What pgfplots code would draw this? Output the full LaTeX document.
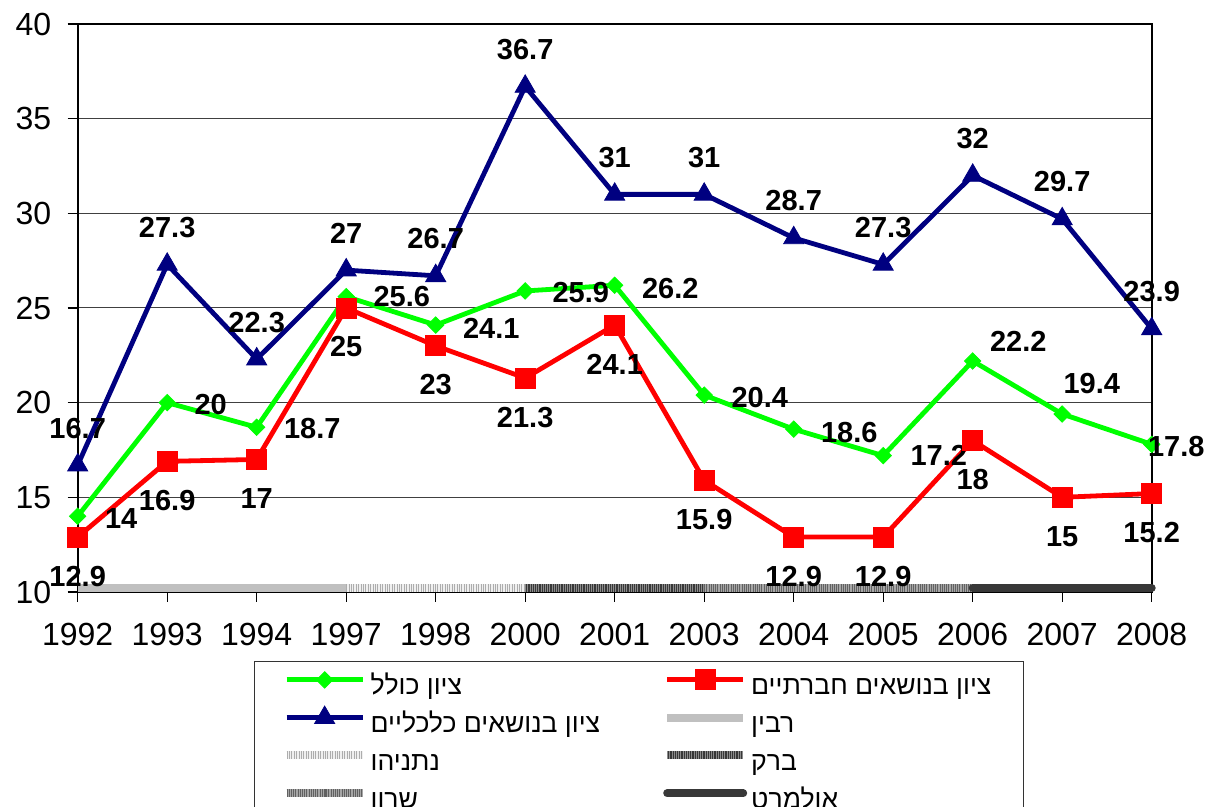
\documentclass[border=0pt]{standalone}
\usepackage{fontspec}
\setmainfont{Liberation Sans}
\newfontfamily\hebfont[Script=Hebrew]{Liberation Sans}
\TeXXeTstate=1
\usepackage{pgfplots}
\usepackage{pgfplotstable}
\pgfplotsset{compat=1.18}
\definecolor{cgreen}{HTML}{00FF00}
\definecolor{cred}{HTML}{FF0000}
\definecolor{cblue}{HTML}{000080}
\definecolor{rabin}{HTML}{C0C0C0}
\definecolor{olmert}{HTML}{383838}

% overall index (green): x, value, label shift
\pgfplotstableread{
x y dx dy
0 14 13.5 -1
1 20 13.5 -1
2 18.7 13.5 -0.5
3 25.6 13.5 0
4 24.1 13.5 -1.5
5 25.9 13.5 -1
6 26.2 13.5 -1.5
7 20.4 13.5 -1
8 18.6 13.5 -1.5
9 17.2 13.5 0
10 22.2 8.5 10
11 19.4 0.5 15.5
12 17.8 -2 -1
}\greendata

% social issues (red)
\pgfplotstableread{
x y
0 12.9
1 16.9
2 17
3 25
4 23
5 21.3
6 24.1
7 15.9
8 12.9
9 12.9
10 18
11 15
12 15.2
}\reddata

% economic issues (blue)
\pgfplotstableread{
x y
0 16.7
1 27.3
2 22.3
3 27
4 26.7
5 36.7
6 31
7 31
8 28.7
9 27.3
10 32
11 29.7
12 23.9
}\bluedata

\begin{document}
\begin{tikzpicture}
\path[use as bounding box] (0,0) rectangle (608pt,403.5pt);
\begin{axis}[
  at={(38.85pt,107.5pt)}, anchor=south west,
  scale only axis, width=537pt, height=284pt,
  xmin=0, xmax=12, ymin=10, ymax=40,
  xtick={0,...,12},
  xticklabels={1992,1993,1994,1997,1998,2000,2001,2003,2004,2005,2006,2007,2008},
  ytick={10,15,...,40},
  tick pos=left, tick align=outside, major tick length=5pt,
  tick style={black, line width=0.6pt},
  ymajorgrids, major grid style={black!75, line width=0.5pt},
  axis line style={black, line width=0.9pt},
  /pgf/number format/assume math mode=true,
  tick label style={font=\fontsize{16}{18}\selectfont},
  xticklabel style={yshift=-7pt},
  yticklabel style={xshift=-4.7pt},
  clip=false,
  legend columns=2,
  legend cell align=left,
  legend image code/.code={%
    \draw[overlay,mark repeat=2,mark phase=2,#1] plot coordinates {(0pt,4pt) (19pt,4pt) (38pt,4pt)};
    \pgfpathrectangle{\pgfpoint{0pt}{-3pt}}{\pgfpoint{38pt}{13pt}}\pgfusepath{discard}},
  legend style={at={(axis description cs:0.1642,-0.122)}, anchor=north west,
    draw=black!80, line width=0.6pt, fill=white,
    inner xsep=16pt, inner ysep=3pt, row sep=2.4pt,
    font=\fontsize{13.3}{15}\selectfont\hebfont,
    nodes={inner sep=0pt, text height=10pt, text depth=3pt},
    /tikz/every odd column/.append style={column sep=4pt},
    /tikz/every even column/.append style={column sep=33.5pt}},
  every node near coord/.append style={font=\fontsize{14.5}{16}\selectfont\bfseries, black, inner sep=0pt},
]
% overall
\addplot[cgreen, line width=2.4pt, mark=square*, mark size=2.9pt,
  mark options={rotate=45, line width=0.4pt, fill=cgreen, draw=cgreen},
  nodes near coords, point meta=explicit,
  visualization depends on={\thisrow{dx} \as \dx},
  visualization depends on={\thisrow{dy} \as \dy},
  every node near coord/.append style={anchor=west, xshift=\dx pt, yshift=\dy pt}]
  table[x=x, y=y, meta=y] {\greendata};
\addlegendentry{\beginR ציון כולל\endR}
% social
\addplot[cred, line width=2.4pt, mark=square*, mark size=5pt,
  mark options={line width=0.4pt, fill=cred, draw=cred},
  nodes near coords, point meta=explicit,
  every node near coord/.append style={anchor=center, yshift=-19.5pt}]
  table[x=x, y=y, meta=y] {\reddata};
\addlegendentry{\beginR ציון בנושאים חברתיים\endR}
% economic
\addplot[cblue, line width=2.4pt, mark=triangle*, mark size=5.8pt,
  mark options={line width=0.4pt, fill=cblue, draw=cblue},
  nodes near coords, point meta=explicit,
  every node near coord/.append style={anchor=center, yshift=18.5pt}]
  table[x=x, y=y, meta=y] {\bluedata};
\addlegendentry{\beginR ציון בנושאים כלכליים\endR}
% prime ministers
\addplot[rabin, line width=4pt, no marks] coordinates {(0,10.21) (3,10.21)};
\addlegendentry{\beginR רבין\endR}
\addplot[color=black!6, line width=4pt, no marks,
  postaction={draw=black!32, line width=4pt, dash pattern=on 0.5pt off 0.7pt}] coordinates {(3,10.21) (5,10.21)};
\addlegendentry{\beginR נתניהו\endR}
\addplot[color=black!78, line width=4pt, no marks,
  postaction={draw=black!45, line width=4pt, dash pattern=on 0.5pt off 0.6pt}] coordinates {(5,10.21) (7,10.21)};
\addlegendentry{\beginR ברק\endR}
\addplot[color=black!35, line width=4pt, no marks,
  postaction={draw=black!62, line width=4pt, dash pattern=on 0.5pt off 0.6pt}] coordinates {(7,10.21) (10,10.21)};
\addlegendentry{\beginR שרון\endR}
\addplot[olmert, line width=4pt, no marks, line cap=round] coordinates {(10,10.21) (12,10.21)};
\addlegendentry{\beginR אולמרט\endR}
\end{axis}
\end{tikzpicture}
\end{document}
